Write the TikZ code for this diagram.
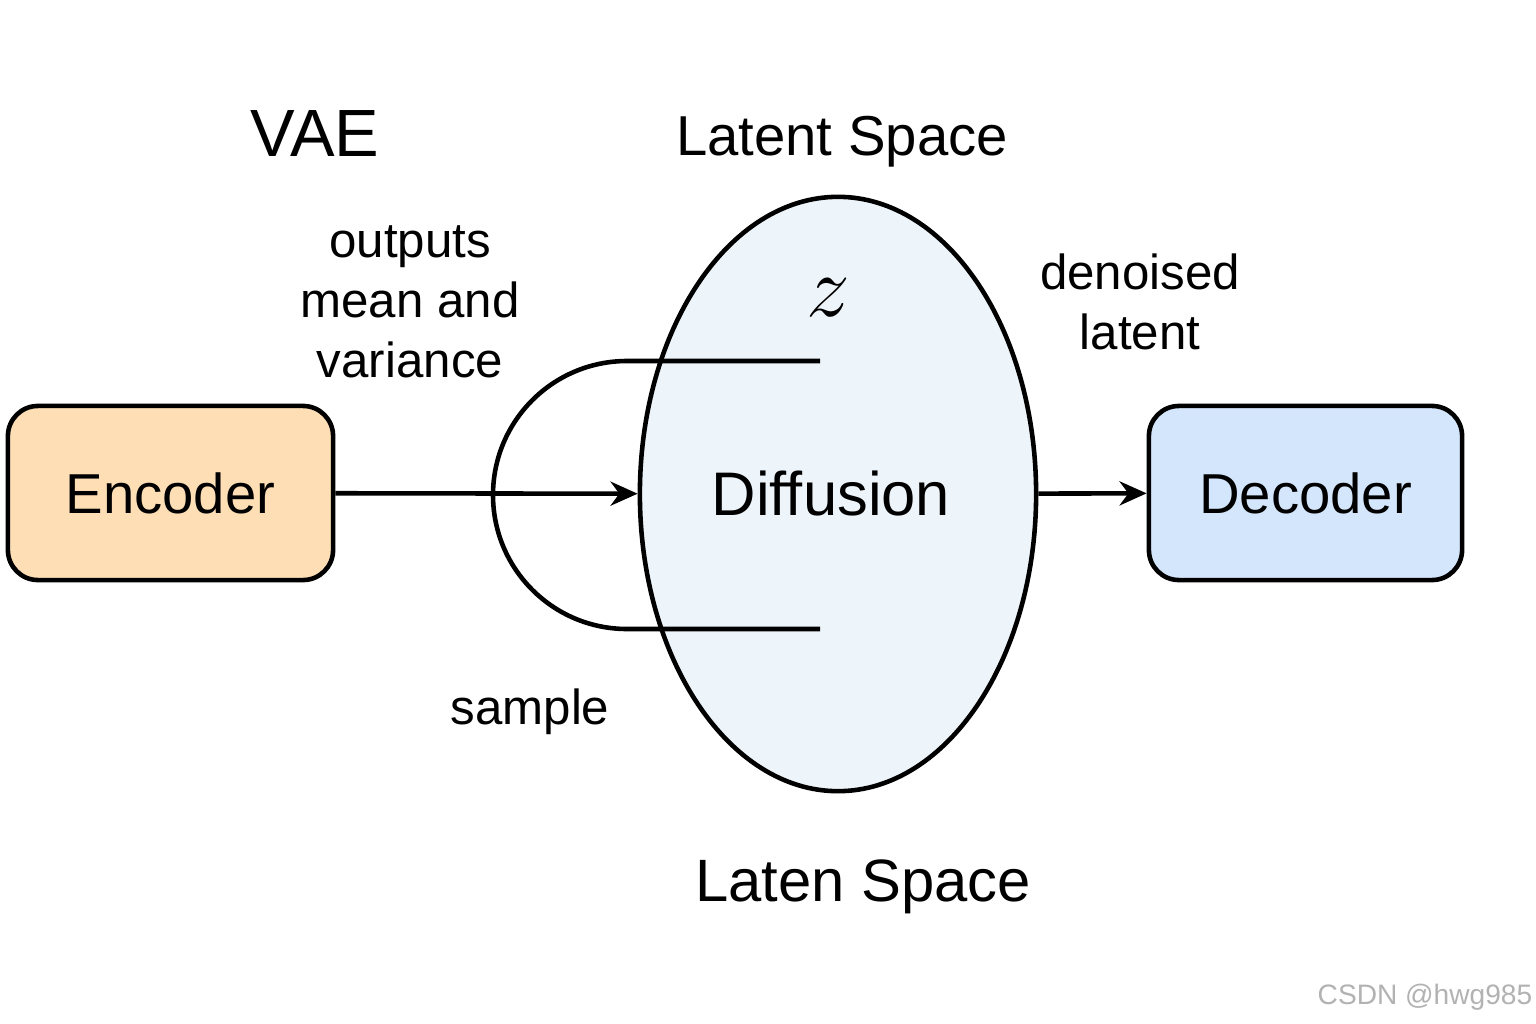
\documentclass[tikz,border=0pt]{standalone}
\usepackage{fontspec}
\setmainfont{Liberation Sans}
\usetikzlibrary{shapes.geometric,arrows.meta}
\definecolor{encfill}{HTML}{FDDEB5}
\definecolor{decfill}{HTML}{D4E6FB}
\definecolor{latfill}{HTML}{EEF5FA}
\tikzset{
  blockbox/.style={draw,line width=1.3pt,rounded corners=0.3cm,minimum height=1.74cm,
    inner sep=0pt,font=\fontsize{16}{18}\selectfont},
  label/.style={align=center,font=\fontsize{14}{17}\selectfont},
}
\begin{document}
\begin{tikzpicture}[x=0.01cm,y=-0.01cm]
      \useasboundingbox (0,0) rectangle (1536,1024);
      \node[blockbox,fill=encfill,minimum width=3.25cm] (enc) at (170.5,493) {Encoder};
      \node[blockbox,fill=decfill,minimum width=3.13cm] (dec) at (1305.5,493) {Decoder};
      \node[ellipse,draw,line width=1.3pt,fill=latfill,minimum width=3.96cm,minimum height=5.94cm,
        inner sep=0pt] (diff) at (838,494) {};
      \node[font=\fontsize{17.5}{20}\selectfont] (difftext) at (831,493) {Diffusion};
      \node[font=\fontsize{19}{22}\selectfont] (vae) at (315,134) {VAE};
      \node[font=\fontsize{16}{18}\selectfont] (top) at (842,142) {Latent Space};
      \node[font=\fontsize{17}{19}\selectfont] (bot) at (863,887) {Laten Space};
      \node[label] (mv) at (410,302) {outputs\\mean and\\variance};
      \node[label] (den) at (1140,302) {denoised\\latent};
      \node[label] (smp) at (530,712) {sample};
      \node[font=\fontsize{24}{26}\selectfont] (z) at (828,298) {$z$};
      \node[font=\fontsize{8}{10}\selectfont,text=gray!60] (wm) at (1425,997) {CSDN @hwg985};
      \coordinate (zt) at (820,361);
      \coordinate (zb) at (820,629);
      \begin{scope}[line width=1.3pt,-{Stealth[length=0.27cm,width=0.24cm]}]
        \draw (enc) to (diff);
        \draw (diff) to (dec);
      \end{scope}
      \begin{scope}[line width=1.3pt]
        \draw (zt) -- (627,361) arc[start angle=270,end angle=90,radius=134] -- (zb);
      \end{scope}
    \end{tikzpicture}
\end{document}
